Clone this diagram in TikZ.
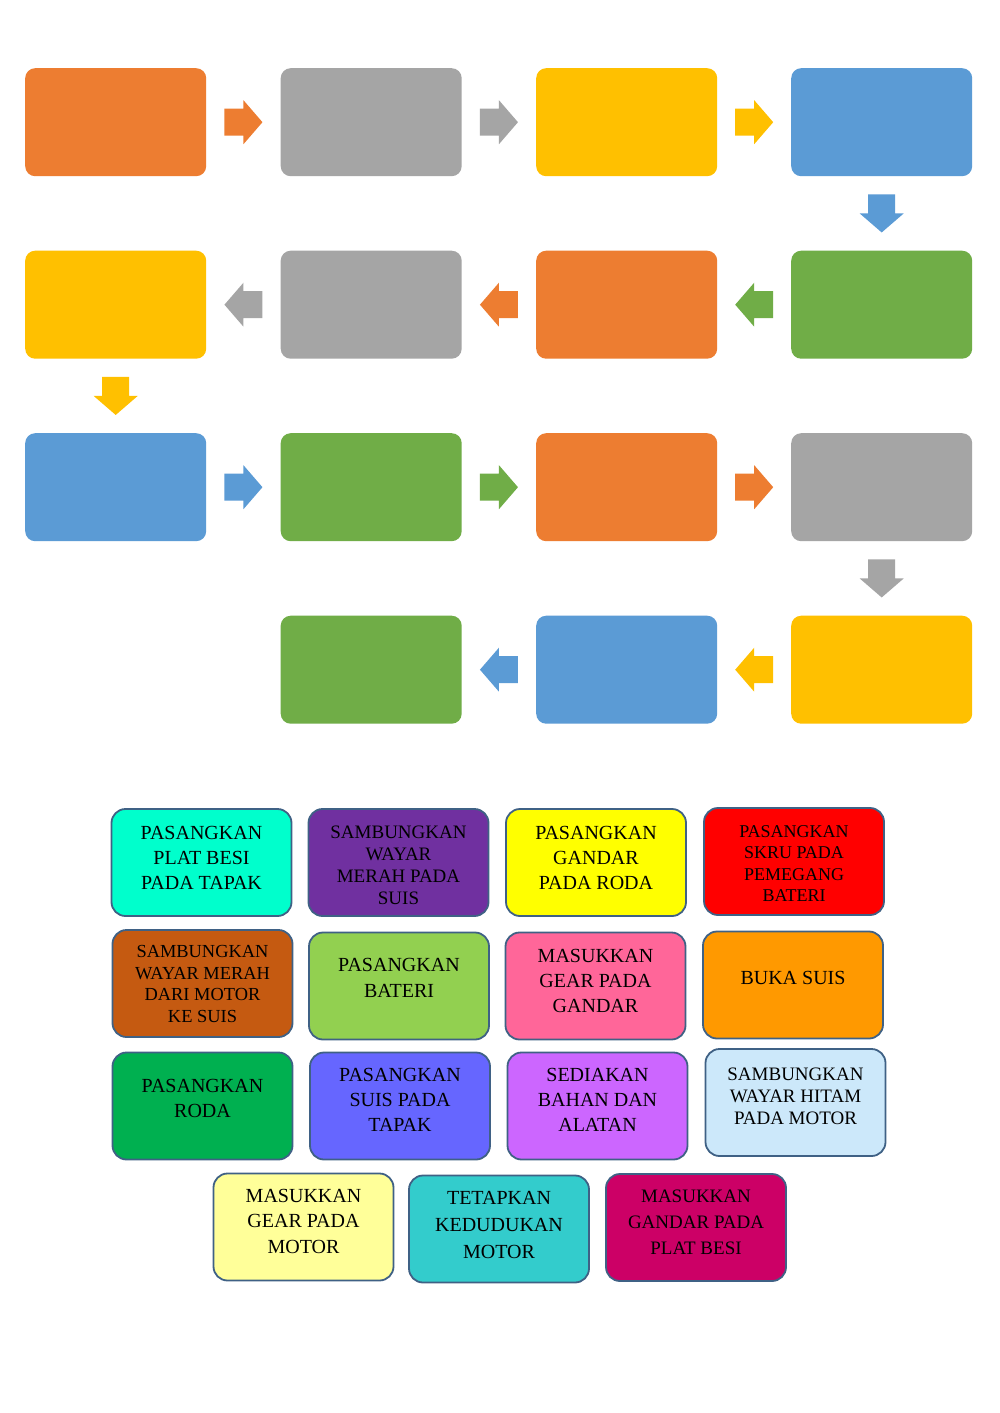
\documentclass[tikz,border=0pt]{standalone}
\usepackage{fontspec}
\setmainfont{Liberation Serif}
\definecolor{orng}{HTML}{ED7D31}
\definecolor{gry}{HTML}{A5A5A5}
\definecolor{gold}{HTML}{FFC000}
\definecolor{blu}{HTML}{5B9BD5}
\definecolor{grn}{HTML}{70AD47}
\definecolor{cardline}{HTML}{3F6185}
\definecolor{cA}{HTML}{00FFCC}
\definecolor{cB}{HTML}{7030A0}
\definecolor{cC}{HTML}{FFFF00}
\definecolor{cD}{HTML}{FF0000}
\definecolor{cE}{HTML}{C55A11}
\definecolor{cF}{HTML}{92D050}
\definecolor{cG}{HTML}{FF6699}
\definecolor{cH}{HTML}{FF9900}
\definecolor{cI}{HTML}{00B050}
\definecolor{cJ}{HTML}{6666FF}
\definecolor{cK}{HTML}{CC66FF}
\definecolor{cL}{HTML}{CCE8FA}
\definecolor{cM}{HTML}{FFFF99}
\definecolor{cN}{HTML}{33CCCC}
\definecolor{cO}{HTML}{CC0066}
\tikzset{
  bigbox/.style={fill=#1, draw=none, rounded corners=10pt, minimum width=181pt, minimum height=108pt, inner sep=0pt, anchor=north west},
  card/.style={fill=#1, draw=cardline, line width=1.8pt, rounded corners=14pt, minimum width=180pt, minimum height=107pt, inner sep=0pt},
  cardtext/.style={align=center, inner sep=0pt, text=black},
  blockarrow/.pic={\fill (-19,-13.5) -- (0,-13.5) -- (0,-22) -- (19,0) -- (0,22) -- (0,13.5) -- (-19,13.5) -- cycle;}
}
\usetikzlibrary{calc}
\begin{document}
\begin{tikzpicture}[x=1pt,y=-1pt]
\useasboundingbox[fill=white] (0,0) rectangle (1000,1413);
% flow boxes
\node[bigbox=orng] (b11) at (25,68) {};
\node[bigbox=gry]  (b12) at (280.5,68) {};
\node[bigbox=gold] (b13) at (536,68) {};
\node[bigbox=blu]  (b14) at (791,68) {};
\node[bigbox=gold] (b21) at (25,250.5) {};
\node[bigbox=gry]  (b22) at (280.5,250.5) {};
\node[bigbox=orng] (b23) at (536,250.5) {};
\node[bigbox=grn]  (b24) at (791,250.5) {};
\node[bigbox=blu]  (b31) at (25,433) {};
\node[bigbox=grn]  (b32) at (280.5,433) {};
\node[bigbox=orng] (b33) at (536,433) {};
\node[bigbox=gry]  (b34) at (791,433) {};
\node[bigbox=grn]  (b42) at (280.5,615.5) {};
\node[bigbox=blu]  (b43) at (536,615.5) {};
\node[bigbox=gold] (b44) at (791,615.5) {};
% arrows
\pic[color=orng] at ($(b11.east)!0.5!(b12.west)$) {blockarrow};
\pic[color=gry]  at ($(b12.east)!0.5!(b13.west)$) {blockarrow};
\pic[color=gold] at ($(b13.east)!0.5!(b14.west)$) {blockarrow};
\pic[color=blu,rotate=-90] at ($(b14.south)!0.5!(b24.north)$) {blockarrow};
\pic[color=grn,rotate=180] at ($(b23.east)!0.5!(b24.west)$) {blockarrow};
\pic[color=orng,rotate=180] at ($(b22.east)!0.5!(b23.west)$) {blockarrow};
\pic[color=gry,rotate=180] at ($(b21.east)!0.5!(b22.west)$) {blockarrow};
\pic[color=gold,rotate=-90] at ($(b21.south)!0.5!(b31.north)$) {blockarrow};
\pic[color=blu]  at ($(b31.east)!0.5!(b32.west)$) {blockarrow};
\pic[color=grn]  at ($(b32.east)!0.5!(b33.west)$) {blockarrow};
\pic[color=orng] at ($(b33.east)!0.5!(b34.west)$) {blockarrow};
\pic[color=gry,rotate=-90] at ($(b34.south)!0.5!(b44.north)$) {blockarrow};
\pic[color=gold,rotate=180] at ($(b43.east)!0.5!(b44.west)$) {blockarrow};
\pic[color=blu,rotate=180] at ($(b42.east)!0.5!(b43.west)$) {blockarrow};
% cards
\node[card=cA] (c1) at (201.5,862.5) {};
\node[card=cB] (c2) at (398.5,862.5) {};
\node[card=cC] (c3) at (596,862.5) {};
\node[card=cD] (c4) at (794,861.5) {};
\node[card=cE] (c5) at (202.5,983.5) {};
\node[card=cF] (c6) at (399,986) {};
\node[card=cG] (c7) at (595.5,986) {};
\node[card=cH] (c8) at (793,985) {};
\node[card=cI] (c9) at (202.5,1106) {};
\node[card=cJ] (c10) at (400,1106) {};
\node[card=cK] (c11) at (597.5,1106) {};
\node[card=cL] (c12) at (795.5,1102.5) {};
\node[card=cM] (c13) at (303.5,1227) {};
\node[card=cN] (c14) at (499,1229) {};
\node[card=cO] (c15) at (696,1227.5) {};
% card texts
\node[cardtext,font=\fontsize{20}{25}\selectfont] (t1) at (201.5,858) {PASANGKAN\\PLAT BESI\\PADA TAPAK};
\node[cardtext,font=\fontsize{19}{22}\selectfont] (t2) at (398.5,865) {SAMBUNGKAN\\WAYAR\\MERAH PADA\\SUIS};
\node[cardtext,font=\fontsize{20}{25}\selectfont] (t3) at (596,858) {PASANGKAN\\GANDAR\\PADA RODA};
\node[cardtext,font=\fontsize{18}{21.5}\selectfont] (t4) at (794,863.5) {PASANGKAN\\SKRU PADA\\PEMEGANG\\BATERI};
\node[cardtext,font=\fontsize{18.4}{21.5}\selectfont] (t5) at (202.5,984) {SAMBUNGKAN\\WAYAR MERAH\\DARI MOTOR\\KE SUIS};
\node[cardtext,font=\fontsize{20}{26}\selectfont] (t6) at (399,978) {PASANGKAN\\BATERI};
\node[cardtext,font=\fontsize{20}{25}\selectfont] (t7) at (595.5,981) {MASUKKAN\\GEAR PADA\\GANDAR};
\node[cardtext,font=\fontsize{20}{25}\selectfont] (t8) at (793,978) {BUKA SUIS};
\node[cardtext,font=\fontsize{20}{25}\selectfont] (t9) at (202.5,1098) {PASANGKAN\\RODA};
\node[cardtext,font=\fontsize{20}{25}\selectfont] (t10) at (400,1100) {PASANGKAN\\SUIS PADA\\TAPAK};
\node[cardtext,font=\fontsize{20}{25}\selectfont] (t11) at (597.5,1100) {SEDIAKAN\\BAHAN DAN\\ALATAN};
\node[cardtext,font=\fontsize{19}{22}\selectfont] (t12) at (795.5,1096) {SAMBUNGKAN\\WAYAR HITAM\\PADA MOTOR};
\node[cardtext,font=\fontsize{20}{25.5}\selectfont] (t13) at (303.5,1221) {MASUKKAN\\GEAR PADA\\MOTOR};
\node[cardtext,font=\fontsize{20}{27}\selectfont] (t14) at (499,1225) {TETAPKAN\\KEDUDUKAN\\MOTOR};
\node[cardtext,font=\fontsize{19}{26}\selectfont] (t15) at (696,1222) {MASUKKAN\\GANDAR PADA\\PLAT BESI};
\end{tikzpicture}
\end{document}
